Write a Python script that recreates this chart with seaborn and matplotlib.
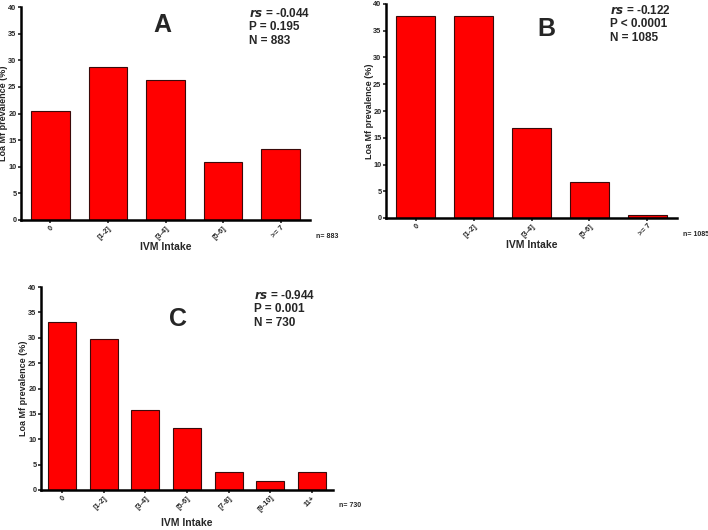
import pandas as pd
import matplotlib.pyplot as plt
import seaborn as sns

sns.set_theme(style="ticks")
plt.rcParams['font.family'] = ['Liberation Sans', 'DejaVu Sans']

# Panel data
cats_ab = ["0", "[1-2]", "[3-4]", "[5-6]", ">= 7"]
cats_c = ["0", "[1-2]", "[3-4]", "[5-6]", "[7-8]", "[9-10]", "11+"]
prev_a = [20.4, 28.7, 26.2, 10.8, 13.4]
prev_b = [37.8, 37.8, 16.9, 6.7, 0.5]
prev_c = [33.2, 29.7, 15.8, 12.3, 3.5, 1.8, 3.5]

letters = ["A", "B", "C"]
rs_vals = ["-0.044", "-0.122", "-0.944"]
p_vals = ["P = 0.195", "P < 0.0001", "P = 0.001"]
n_vals = ["883", "1085", "730"]

W, H = 708, 530
fig = plt.figure(figsize=(W / 100, H / 100), dpi=100)


def box(l, r, t, b):
    return [l / W, 1 - b / H, (r - l) / W, (b - t) / H]


panels = [
    (box(21, 310, 7, 220), cats_ab, prev_a),
    (box(386, 677, 4, 218), cats_ab, prev_b),
    (box(41, 333, 287, 490), cats_c, prev_c),
]
# letter position (axes frac), stats text position (axes frac)
letter_pos = [(0.49, 0.97), (0.55, 0.94), (0.47, 0.90)]
stats_pos = [(0.79, 1.0), (0.77, 1.0), (0.73, 0.99)]
xlabel_pad = [1, 1, 3]

for i, (rect, cats, vals) in enumerate(panels):
    ax = fig.add_axes(rect)
    df = pd.DataFrame({"IVM": cats, "prev": vals})
    sns.barplot(data=df, x="IVM", y="prev", color="#ff0000", saturation=1,
                width=0.67, edgecolor="#3a0a0a", linewidth=0.8, ax=ax)
    ax.set_ylim(0, 40)
    ax.set_xlim(-0.51, len(cats) - 0.49)
    ax.set_yticks(range(0, 41, 5))
    sns.despine(ax=ax)
    for s in ["left", "bottom"]:
        ax.spines[s].set_linewidth(1.8)
        ax.spines[s].set_color("black")
    ax.tick_params(axis="both", length=2.5, width=1.2, pad=0.8, labelsize=5.3)
    plt.setp(ax.get_xticklabels(), rotation=45, ha="right",
             rotation_mode="anchor", fontweight="bold")
    plt.setp(ax.get_yticklabels(), fontweight="bold")
    ax.set_xlabel("IVM Intake", fontsize=7.5, fontweight="bold", labelpad=xlabel_pad[i])
    ax.set_ylabel("Loa Mf prevalence (%)", fontsize=6.5, fontweight="bold")
    # keep the y label inside the figure: pixel position left of the tick labels
    ax.yaxis.set_label_coords(-12.5 / (rect[2] * W), 0.5)

    lx, ly = letter_pos[i]
    ax.text(lx, ly, letters[i], transform=ax.transAxes, fontsize=18,
            fontweight="bold", ha="center", va="top")
    sx, sy = stats_pos[i]
    ax.text(sx, sy, "$\\mathbfit{rs}$ = " + rs_vals[i] + "\n" + p_vals[i]
            + "\nN = " + n_vals[i], transform=ax.transAxes, fontsize=8.5,
            fontweight="bold", ha="left", va="top", linespacing=1.15)
    ax.text(1.02, -0.06, "n= " + n_vals[i], transform=ax.transAxes,
            fontsize=5, fontweight="bold", ha="left", va="top")

fig.savefig("out.png", dpi=100)
